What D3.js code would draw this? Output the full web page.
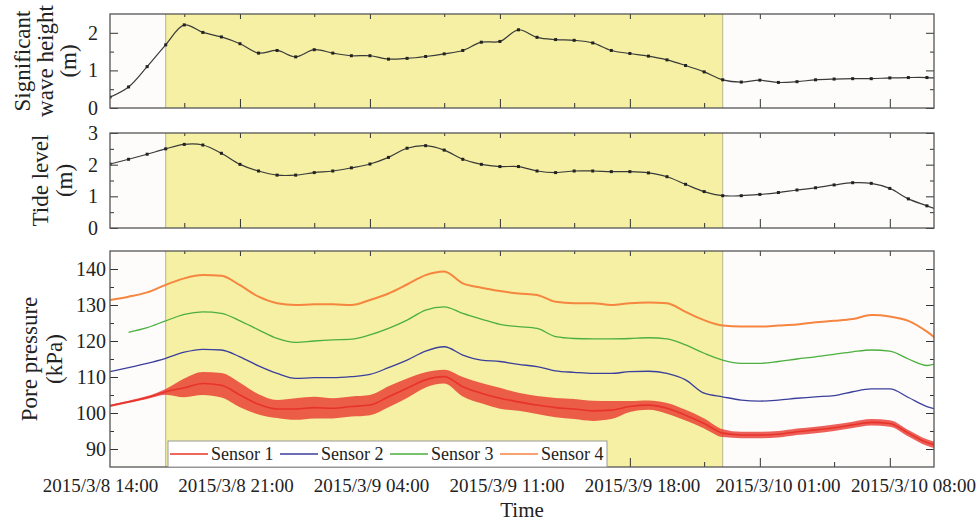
<!DOCTYPE html>
<html>
<head>
<meta charset="utf-8">
<script src="https://cdn.jsdelivr.net/npm/d3@7"></script>
<style>
  html, body { margin: 0; background: #fff; }
  svg text { font-family: "Times New Roman", Times, "Liberation Serif", serif; fill: #222; }
</style>
</head>
<body>
<svg id="chart" width="979" height="524"></svg>
<script>
// hourly readings starting 2015/3/8 14:00 (index = hours after start)
const waveHeight = [0.29, 0.56, 1.10, 1.68, 2.21, 2.01, 1.89, 1.71, 1.46, 1.53, 1.36, 1.55,
  1.46, 1.39, 1.39, 1.30, 1.32, 1.37, 1.44, 1.53, 1.75, 1.77, 2.08, 1.88, 1.82, 1.80,
  1.73, 1.53, 1.45, 1.38, 1.28, 1.13, 0.96, 0.75, 0.69, 0.74, 0.68, 0.70, 0.75, 0.77,
  0.78, 0.78, 0.80, 0.81, 0.81, 0.78];

const tideLevel = [2.02, 2.17, 2.33, 2.50, 2.64, 2.62, 2.36, 2.01, 1.80, 1.67, 1.67, 1.75,
  1.80, 1.90, 2.02, 2.23, 2.52, 2.60, 2.46, 2.17, 2.01, 1.94, 1.94, 1.80, 1.75, 1.80,
  1.80, 1.78, 1.78, 1.74, 1.62, 1.38, 1.15, 1.02, 1.02, 1.06, 1.12, 1.20, 1.27, 1.36,
  1.43, 1.41, 1.25, 0.92, 0.70, 0.48];

const sensor1 = [102.0, 103.1, 104.3, 105.9, 107.0, 108.2, 107.7, 105.0, 102.4, 101.1, 101.1,
  101.5, 101.3, 101.8, 102.2, 104.5, 106.9, 109.2, 110.1, 107.3, 105.5, 104.1, 103.1, 102.2,
  101.5, 101.1, 100.6, 100.8, 101.8, 102.2, 101.3, 99.4, 97.1, 94.4, 93.9, 93.9, 94.1, 94.8,
  95.3, 95.9, 96.7, 97.4, 97.1, 94.4, 91.8, 90.6];
// half width of the noise band around sensor 1
const sensor1Noise = [0.3, 0.3, 0.4, 0.8, 2.6, 3.2, 3.4, 3.4, 2.8, 2.5, 3.0, 3.0, 2.8, 2.8,
  2.8, 2.9, 2.7, 2.1, 1.9, 2.7, 2.8, 2.9, 2.5, 2.5, 2.7, 2.8, 2.8, 2.5, 1.5, 1.3, 1.5, 1.5,
  1.4, 1.1, 0.9, 0.9, 0.9, 0.9, 0.9, 0.9, 0.9, 0.9, 0.9, 0.9, 0.9, 0.9];

const sensor2 = [111.5, 112.6, 113.8, 115.2, 116.9, 117.7, 117.5, 115.6, 113.1, 111.0, 109.6,
  109.8, 109.8, 110.1, 110.7, 112.6, 114.7, 117.2, 118.4, 116.1, 114.7, 114.3, 113.5, 112.9,
  111.7, 111.3, 111.0, 111.0, 111.5, 111.6, 111.0, 109.2, 105.5, 104.5, 103.6, 103.3, 103.6,
  104.1, 104.5, 104.8, 105.9, 106.7, 106.7, 104.3, 101.8, 100.6];

const sensor3 = [null, 122.4, 123.7, 125.6, 127.4, 128.1, 127.7, 125.6, 123.1, 120.7, 119.6,
  120.0, 120.3, 120.5, 121.7, 123.5, 125.8, 128.6, 129.5, 127.7, 126.1, 124.6, 124.0, 123.5,
  121.2, 120.7, 120.6, 120.6, 120.7, 120.9, 120.6, 118.9, 116.6, 114.7, 113.8, 113.8, 114.3,
  115.0, 115.6, 116.3, 117.0, 117.5, 117.2, 115.0, 113.2, 115.0];

const sensor4 = [131.4, 132.3, 133.5, 135.6, 137.4, 138.3, 138.1, 135.5, 132.3, 130.5, 130.0,
  130.2, 130.2, 130.0, 131.4, 133.2, 135.7, 138.3, 139.3, 136.0, 134.8, 133.9, 133.2, 132.8,
  130.9, 130.5, 130.5, 130.0, 130.5, 130.7, 130.5, 128.1, 125.8, 124.3, 124.0, 124.0, 124.3,
  124.6, 125.2, 125.6, 126.1, 127.2, 126.8, 125.6, 122.6, 118.5];

const sensorNames = ["Sensor 1", "Sensor 2", "Sensor 3", "Sensor 4"];
const sensorColors = ["#e8332b", "#3b3f9c", "#4caf3f", "#f5853f"];

const startTime = new Date(2015, 2, 8, 14, 0);
const endHours = 44.38;
const shadeHours = [3, 33];           // 2015/3/8 17:00 – 2015/3/9 23:00
const labelHours = [0, 7, 14, 21, 28, 35, 42];
const majorTickHours = [7, 14, 21, 28, 35, 42];
const minorTickHours = [4, 11, 18, 25, 32, 39];

const at = h => new Date(+startTime + h * 3600e3);
const times = waveHeight.map((d, i) => at(i));

const svg = d3.select("#chart");
const left = 110, right = 934;

const x = d3.scaleTime().domain([startTime, at(endHours)]).range([left, right]);
// the printed date labels sit on a slightly wider spacing than the ticks
const xLabel = d3.scaleTime().domain([startTime, at(42)]).range([100, 913]);

const panels = [
  { top: 14, bottom: 108, domain: [0, 2.5], major: [0, 1, 2], minor: [0.5, 1.5],
    title: ["Significant", "wave height", "(m)"], titleX: [22, 45, 68], pad: 12 },
  { top: 133, bottom: 228, domain: [0, 3], major: [0, 1, 2, 3], minor: [0.5, 1.5, 2.5],
    title: ["Tide level", "(m)"], titleX: [40, 64], pad: 12 },
  { top: 251, bottom: 467, domain: [85, 145], major: [90, 100, 110, 120, 130, 140],
    minor: [95, 105, 115, 125, 135], title: ["Pore pressure", "(kPa)"], titleX: [29, 54], pad: 4 }
];

panels.forEach((p, k) => {
  p.y = d3.scaleLinear().domain(p.domain).range([p.bottom, p.top]);
  const g = svg.append("g");

  g.append("clipPath").attr("id", "clip" + k)
    .append("rect").attr("x", left).attr("y", p.top)
    .attr("width", right - left).attr("height", p.bottom - p.top);

  g.append("rect").attr("x", left).attr("y", p.top)
    .attr("width", right - left).attr("height", p.bottom - p.top)
    .attr("fill", "#fdfcfa");
  g.append("rect")
    .attr("x", x(at(shadeHours[0]))).attr("y", p.top)
    .attr("width", x(at(shadeHours[1])) - x(at(shadeHours[0])))
    .attr("height", p.bottom - p.top)
    .attr("fill", "#f5f0a3");
  g.selectAll(".edge").data(shadeHours).join("line")
    .attr("x1", d => x(at(d))).attr("x2", d => x(at(d)))
    .attr("y1", p.top).attr("y2", p.bottom)
    .attr("stroke", "#b9b68c").attr("stroke-width", 1);

  // inward ticks on all four sides
  const tickGroup = (axis, tx, ty) => g.append("g")
    .attr("transform", `translate(${tx},${ty})`)
    .call(axis)
    .attr("color", "#333")
    .attr("font-size", 20)
    .attr("font-family", null)
    .call(s => s.select(".domain").remove());

  tickGroup(d3.axisLeft(p.y).tickValues(p.major).tickSize(-8).tickPadding(p.pad)
    .tickFormat(d3.format("d")), left, 0);
  tickGroup(d3.axisLeft(p.y).tickValues(p.minor).tickSize(-4).tickFormat(""), left, 0);
  tickGroup(d3.axisRight(p.y).tickValues(p.major).tickSize(-8).tickFormat(""), right, 0);
  tickGroup(d3.axisRight(p.y).tickValues(p.minor).tickSize(-4).tickFormat(""), right, 0);
  tickGroup(d3.axisBottom(x).tickValues(majorTickHours.map(at)).tickSize(-9).tickFormat(""), 0, p.bottom);
  tickGroup(d3.axisBottom(x).tickValues(minorTickHours.map(at)).tickSize(-5).tickFormat(""), 0, p.bottom);
  tickGroup(d3.axisTop(x).tickValues(majorTickHours.map(at)).tickSize(-5).tickFormat(""), 0, p.top);
  tickGroup(d3.axisTop(x).tickValues(minorTickHours.map(at)).tickSize(-3).tickFormat(""), 0, p.top);

  const mid = (p.top + p.bottom) / 2;
  g.selectAll(".ytitle").data(p.title).join("text")
    .attr("transform", (d, i) => `translate(${p.titleX[i]},${mid}) rotate(-90)`)
    .attr("text-anchor", "middle")
    .attr("dominant-baseline", "central")
    .attr("font-size", 23)
    .text(d => d);

  p.plot = g.append("g").attr("clip-path", `url(#clip${k})`);
  p.frame = g;
});

// wave height and tide: smooth curve with hourly markers
[[panels[0], waveHeight], [panels[1], tideLevel]].forEach(([p, values]) => {
  const line = d3.line()
    .x((d, i) => x(times[i]))
    .y(d => p.y(d))
    .curve(d3.curveCatmullRom);
  p.plot.append("path").datum(values)
    .attr("fill", "none").attr("stroke", "#3a3a3a").attr("stroke-width", 1.2)
    .attr("d", line);
  p.plot.selectAll(".pt").data(values.filter((d, i) => i <= endHours)).join("rect")
    .attr("x", (d, i) => x(times[i]) - 1.5)
    .attr("y", d => p.y(d) - 1.5)
    .attr("width", 3).attr("height", 3)
    .attr("fill", "#222");
});

// pore pressure
const pp = panels[2];
const sensorLine = d3.line()
  .defined(d => d != null)
  .x((d, i) => x(times[i]))
  .y(d => pp.y(d))
  .curve(d3.curveMonotoneX);

pp.plot.append("path").datum(sensor1)
  .attr("fill", sensorColors[0]).attr("fill-opacity", 0.78)
  .attr("d", d3.area()
    .x((d, i) => x(times[i]))
    .y0((d, i) => pp.y(d - sensor1Noise[i]))
    .y1((d, i) => pp.y(d + sensor1Noise[i]))
    .curve(d3.curveMonotoneX));

[sensor1, sensor2, sensor3, sensor4].forEach((values, i) => {
  pp.plot.append("path").datum(values)
    .attr("fill", "none")
    .attr("stroke", sensorColors[i])
    .attr("stroke-width", i === 3 ? 2 : i === 0 ? 1.6 : 1.3)
    .attr("d", sensorLine);
});

// frames on top
panels.forEach(p => {
  p.frame.append("rect").attr("x", left).attr("y", p.top)
    .attr("width", right - left).attr("height", p.bottom - p.top)
    .attr("fill", "none").attr("stroke", "#555").attr("stroke-width", 1.3);
});

// legend
const legend = svg.append("g");
legend.append("rect")
  .attr("x", 168).attr("y", 441).attr("width", 439).attr("height", 26)
  .attr("fill", "#fff").attr("stroke", "#999");
const item = legend.selectAll(".item").data(sensorNames).join("g")
  .attr("transform", (d, i) => `translate(${170 + i * 110},454)`);
item.append("line").attr("x1", 0).attr("x2", 38)
  .attr("stroke", (d, i) => sensorColors[i]).attr("stroke-width", 1.3);
item.append("text").attr("x", 41).attr("dominant-baseline", "central")
  .attr("font-size", 18).text(d => d);

// date labels and axis title
const fmt = d3.timeFormat("%Y/%-m/%-d %H:%M");
svg.append("g")
  .attr("transform", `translate(0,${pp.bottom})`)
  .call(d3.axisBottom(xLabel).tickValues(labelHours.map(at)).tickSize(0).tickPadding(12).tickFormat(fmt))
  .attr("font-size", 19)
  .attr("font-family", null)
  .call(s => s.select(".domain").remove());

svg.append("text")
  .attr("x", 522).attr("y", 517)
  .attr("text-anchor", "middle")
  .attr("font-size", 21)
  .text("Time");
</script>
</body>
</html>
